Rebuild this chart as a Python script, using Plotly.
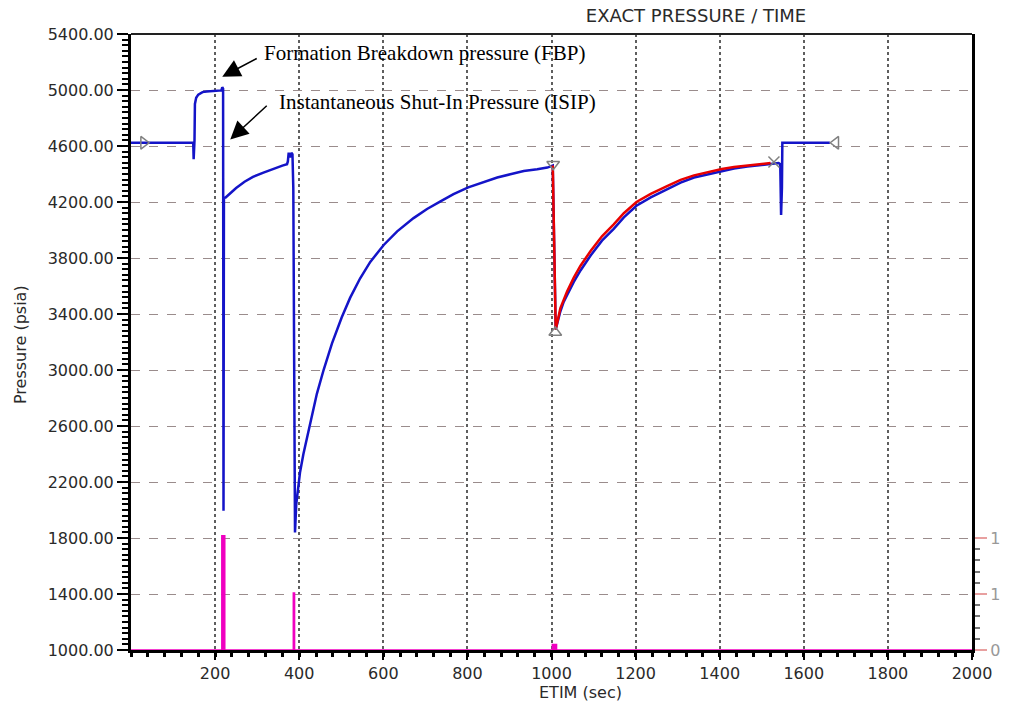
import plotly.graph_objects as go

# ---- data ----
blue_x = [0, 148, 149, 151, 152, 155, 160, 170, 180, 200, 212, 215, 217, 219, 220, 221, 225, 235,
          250, 270, 290, 315, 340, 360, 371, 373, 375, 378, 382, 384, 386, 390, 393, 398, 402,
          410, 426, 442, 458, 478, 501, 521, 545, 569, 601, 633, 672, 704, 736, 767, 802, 839,
          871, 902, 934, 966, 990, 1003, 1010, 1021, 1029, 1037, 1053, 1069, 1093, 1120, 1148,
          1172, 1202, 1236, 1276, 1307, 1339, 1371, 1405, 1434, 1466, 1490, 1521, 1540, 1544,
          1546, 1548, 1549, 1662]
blue_y = [4623, 4623, 4505, 4640, 4900, 4945, 4967, 4985, 4990, 4993, 4995, 4997, 5020, 5010,
          1995, 4230, 4232, 4262, 4300, 4345, 4380, 4410, 4440, 4460, 4470, 4490, 4552, 4520,
          4552, 4540, 4300, 1840, 2042, 2160, 2270, 2400, 2620, 2830, 3000, 3190, 3375, 3515,
          3655, 3772, 3893, 3990, 4085, 4150, 4205, 4256, 4304, 4344, 4375, 4398, 4422, 4434,
          4446, 4460, 3290, 3418, 3487, 3534, 3629, 3711, 3818, 3924, 4008, 4090, 4173, 4233,
          4292, 4339, 4375, 4398, 4422, 4439, 4453, 4462, 4476, 4478, 4470, 4107, 4300, 4623,
          4623]

red_x = [1003, 1010, 1021, 1029, 1037, 1053, 1069, 1093, 1120, 1148, 1172, 1202, 1236, 1276,
         1307, 1339, 1371, 1405, 1434, 1466, 1490, 1521]
red_y = [4460, 3290, 3440, 3505, 3560, 3660, 3745, 3850, 3955, 4040, 4120, 4200, 4258, 4315,
         4358, 4390, 4413, 4435, 4450, 4462, 4470, 4478]

mag_x = [0, 216, 216, 223, 223, 386, 386, 389, 389, 1002, 1002, 1012, 1012, 2000]
mag_y = [0, 0, 1.02, 1.02, 0, 0, 0.51, 0.51, 0, 0, 0.05, 0.05, 0, 0]

mark_x = [30, 1004, 1009, 1529, 1676]
mark_y = [4623, 4470, 3268, 4486, 4623]
mark_sym = ["triangle-right-open", "triangle-down-open", "triangle-up-open", "x-thin-open",
            "triangle-left-open"]

y_ticks = [1000, 1400, 1800, 2200, 2600, 3000, 3400, 3800, 4200, 4600, 5000, 5400]
x_ticks = [200, 400, 600, 800, 1000, 1200, 1400, 1600, 1800, 2000]
y2_ticks = [0, 0.5, 1]
y2_text = ["0", "1", "1"]
y2_minor = [0.1, 0.2, 0.3, 0.4, 0.6, 0.7, 0.8, 0.9]

title_text = "EXACT PRESSURE / TIME"
x_title = "ETIM (sec)"
y_title = "Pressure (psia)"
fbp_text = "Formation Breakdown pressure (FBP)"
isip_text = "Instantaneous Shut-In Pressure (ISIP)"

W, H = 1012, 704
L, R, T, B = 131, 40, 34, 54
pw, ph = W - L - R, H - T - B

fig = go.Figure()
fig.add_trace(go.Scatter(x=mag_x, y=mag_y, yaxis="y2", mode="lines", fill="tozeroy",
                         line=dict(color="#f000c0", width=1.5), fillcolor="#f000c0",
                         hoverinfo="skip", showlegend=False))
fig.add_trace(go.Scatter(x=blue_x, y=blue_y, mode="lines",
                         line=dict(color="#1414c8", width=2.5), showlegend=False))
fig.add_trace(go.Scatter(x=red_x, y=red_y, mode="lines",
                         line=dict(color="#e80000", width=2.5), showlegend=False))
fig.add_trace(go.Scatter(x=mark_x, y=mark_y, mode="markers",
                         marker=dict(symbol=mark_sym, size=11, color="#808080",
                                     line=dict(width=1.5, color="#808080")),
                         showlegend=False))

font_ax = "DejaVu Sans"
fig.update_layout(
    width=W, height=H,
    margin=dict(l=L, r=R, t=T, b=B),
    paper_bgcolor="white", plot_bgcolor="white",
    showlegend=False,
    title=dict(text=title_text, x=696 / W, xref="container", xanchor="center",
               y=1 - 16 / H, yref="container", yanchor="middle",
               font=dict(family=font_ax, size=18, color="#2a2a2a")),
    xaxis=dict(range=[0, 2000], tickmode="array", tickvals=x_ticks,
               showline=True, linewidth=3, linecolor="black",
               ticks="outside", ticklen=7, tickwidth=2, tickcolor="black",
               minor=dict(dtick=40, tick0=0, ticks="outside", ticklen=4, tickwidth=3,
                          tickcolor="black", showgrid=False),
               showgrid=True, gridcolor="#5e5e5e", griddash="dot", gridwidth=1.5,
               zeroline=False,
               tickfont=dict(family=font_ax, size=16, color="#2a2a2a")),
    yaxis=dict(range=[1000, 5400], tickmode="array", tickvals=y_ticks, tickformat=".2f",
               showline=True, linewidth=3, linecolor="black",
               ticks="outside", ticklen=11, tickwidth=2, tickcolor="black",
               minor=dict(dtick=40, tick0=1000, ticks="outside", ticklen=6, tickwidth=2,
                          tickcolor="black", showgrid=False),
               showgrid=True, gridcolor="#9a8c8c", griddash="dash", gridwidth=1,
               zeroline=False,
               tickfont=dict(family=font_ax, size=16, color="#2a2a2a")),
    yaxis2=dict(range=[0, 5.5], overlaying="y", side="right",
                tickmode="array", tickvals=y2_ticks, ticktext=y2_text,
                showline=True, linewidth=3, linecolor="black",
                ticks="outside", ticklen=12, tickwidth=2, tickcolor="#e8a0a0",
                minor=dict(tickmode="array", tickvals=y2_minor, ticks="outside",
                           ticklen=5, tickwidth=1.5, tickcolor="#777777", showgrid=False),
                showgrid=False, zeroline=False,
                tickfont=dict(family=font_ax, size=16, color="#999999")),
    shapes=[dict(type="line", xref="paper", yref="paper", x0=0, x1=1, y0=1, y1=1,
                 line=dict(color="#222222", width=2))],
)

fig.add_annotation(text=x_title, xref="paper", yref="paper",
                   x=(580 - L) / pw, y=1 - (692 - T) / ph, xanchor="center", yanchor="middle",
                   showarrow=False, font=dict(family=font_ax, size=16, color="#2a2a2a"))
fig.add_annotation(text=y_title, xref="paper", yref="paper", textangle=-90,
                   x=(20 - L) / pw, y=1 - (345 - T) / ph, xanchor="center", yanchor="middle",
                   showarrow=False, font=dict(family=font_ax, size=16, color="#2a2a2a"))
fig.add_annotation(text=fbp_text, xref="paper", yref="paper",
                   x=(262 - L) / pw, y=1 - (53 - T) / ph, xanchor="left", yanchor="middle",
                   showarrow=False, font=dict(family="Liberation Serif", size=21, color="black"))
fig.add_annotation(text=isip_text, xref="paper", yref="paper",
                   x=(277 - L) / pw, y=1 - (102 - T) / ph, xanchor="left", yanchor="middle",
                   showarrow=False, font=dict(family="Liberation Serif", size=21, color="black"))
# arrows
fig.add_annotation(text="", x=217, y=5095, xref="x", yref="y", ax=36, ay=-19,
                   showarrow=True, arrowhead=2, arrowsize=2.4, arrowwidth=1.5,
                   arrowcolor="black")
fig.add_annotation(text="", x=236, y=4647, xref="x", yref="y", ax=38, ay=-35,
                   showarrow=True, arrowhead=2, arrowsize=2.4, arrowwidth=1.5,
                   arrowcolor="black")

fig.write_html("out.html")
